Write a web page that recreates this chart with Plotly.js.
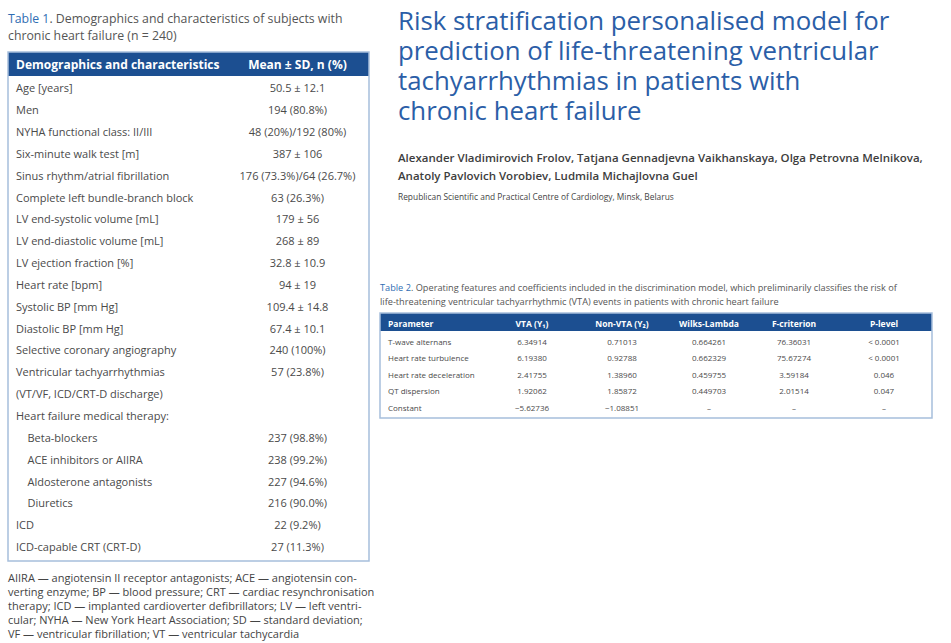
<!DOCTYPE html>
<html>
<head>
<meta charset="utf-8">
<script src="https://cdn.plot.ly/plotly-3.0.1.min.js"></script>
<style>html,body{margin:0;padding:0;background:#fff;}#chart{width:951px;height:643px;}</style>
</head>
<body>
<div id="chart"></div>
<script>
// ---- Table 1 data ----
const t1Header = ["Demographics\u00a0and\u00a0characteristics", "Mean\u00a0\u00b1\u00a0SD,\u00a0n\u00a0(%)"];
const t1Labels = [
  "Age [years]", "Men", "NYHA functional class: II/III", "Six-minute walk test [m]",
  "Sinus rhythm/atrial fibrillation", "Complete left bundle-branch block",
  "LV end-systolic volume [mL]", "LV end-diastolic volume [mL]", "LV ejection fraction [%]",
  "Heart rate [bpm]", "Systolic BP [mm Hg]", "Diastolic BP [mm Hg]",
  "Selective coronary angiography", "Ventricular tachyarrhythmias", "(VT/VF, ICD/CRT-D discharge)",
  "Heart failure medical therapy:",
  "\u00a0\u00a0\u00a0\u00a0Beta-blockers", "\u00a0\u00a0\u00a0\u00a0ACE inhibitors or AIIRA",
  "\u00a0\u00a0\u00a0\u00a0Aldosterone antagonists", "\u00a0\u00a0\u00a0\u00a0Diuretics",
  "ICD", "ICD-capable CRT (CRT-D)"
];
const t1Values = [
  "50.5 \u00b1 12.1", "194 (80.8%)", "48 (20%)/192 (80%)", "387 \u00b1 106",
  "176\u00a0(73.3%)/64\u00a0(26.7%)", "63 (26.3%)", "179 \u00b1 56", "268 \u00b1 89", "32.8 \u00b1 10.9",
  "94 \u00b1 19", "109.4 \u00b1 14.8", "67.4 \u00b1 10.1", "240 (100%)", "57 (23.8%)", "",
  "", "237 (98.8%)", "238 (99.2%)", "227 (94.6%)", "216 (90.0%)", "22 (9.2%)", "27 (11.3%)"
];

// ---- Table 2 data ----
const t2Header = ["Parameter", "VTA\u00a0(Y\u2081)", "Non-VTA\u00a0(Y\u2082)", "Wilks-Lambda", "F-criterion", "P-level"];
const t2Parameter = ["T-wave\u00a0alternans", "Heart\u00a0rate\u00a0turbulence", "Heart\u00a0rate\u00a0deceleration", "QT\u00a0dispersion", "Constant"];
const t2VTA = ["6.34914", "6.19380", "2.41755", "1.92062", "\u22125.62736"];
const t2NonVTA = ["0.71013", "0.92788", "1.38960", "1.85872", "\u22121.08851"];
const t2Wilks = ["0.664261", "0.662329", "0.459755", "0.449703", "\u2013"];
const t2F = ["76.36031", "75.67274", "3.59184", "2.01514", "\u2013"];
const t2P = ["< 0.0001", "< 0.0001", "0.046", "0.047", "\u2013"];

// ---- Text blocks ----
const titleLines = [
  "Risk stratification personalised model for",
  "prediction of life-threatening ventricular",
  "tachyarrhythmias in patients with",
  "chronic heart failure"
];
const authorLines = [
  "Alexander Vladimirovich Frolov, Tatjana Gennadjevna Vaikhanskaya, Olga Petrovna Melnikova,",
  "Anatoly Pavlovich Vorobiev, Ludmila Michajlovna Guel"
];
const affiliation = "Republican Scientific and Practical Centre of Cardiology, Minsk, Belarus";
const t1Caption = [
  "<span style='color:#2f6db3'>Table 1</span>. Demographics and characteristics of subjects with",
  "chronic heart failure (n = 240)"
];
const t2Caption = [
  "<span style='color:#2f6db3'>Table 2</span>. Operating features and coefficients included in the discrimination model, which preliminarily classifies the risk of",
  "life-threatening ventricular tachyarrhythmic (VTA) events in patients with chronic heart failure"
];
const footLines = [
  "AIIRA \u2014 angiotensin II receptor antagonists; ACE \u2014 angiotensin con-",
  "verting enzyme; BP \u2014 blood pressure; CRT \u2014 cardiac resynchronisation",
  "therapy; ICD \u2014 implanted cardioverter defibrillators; LV \u2014 left ventri-",
  "cular; NYHA \u2014 New York Heart Association; SD \u2014 standard deviation;",
  "VF \u2014 ventricular fibrillation; VT \u2014 ventricular tachycardia"
];

const W = 951, H = 643;
const FONT = "Open Sans, Noto Sans, DejaVu Sans, sans-serif";
const HDR = "#1c4f91", BORDER = "#a7bfdc", TXT = "#4a4a4a", BLUE = "#2b5ea7";
const px = x => x / W;
const py = y => 1 - y / H;

const table1 = {
  type: "table",
  domain: {x: [px(8), px(369)], y: [py(600), py(52)]},
  columnwidth: [218, 143],
  header: {
    values: t1Header,
    align: ["left", "center"],
    height: 24,
    fill: {color: HDR},
    line: {color: HDR, width: 0},
    font: {family: FONT, size: 12, color: "#ffffff", weight: "bold"}
  },
  cells: {
    values: [t1Labels, t1Values],
    align: ["left", "center"],
    height: 21.85,
    fill: {color: "rgba(0,0,0,0)"},
    line: {color: "rgba(0,0,0,0)", width: 0},
    font: {family: FONT, size: 11, color: TXT}
  }
};

// split a leading "<" off the P-level strings into a cell prefix (plain text, no row growth)
const t2PPrefix = t2P.map(v => v.startsWith("<") ? "<\u00a0" : "");
const t2PValue = t2P.map(v => v.replace(/^<\s*/, ""));
const t2Columns = [t2Parameter, t2VTA, t2NonVTA, t2Wilks, t2F, t2PValue];
const t2Prefix = t2Columns.map((col, i) => i === t2Columns.length - 1 ? t2PPrefix : col.map(() => ""));

const table2 = {
  type: "table",
  domain: {x: [px(380), px(932)], y: [py(440), py(313)]},
  columnwidth: [106, 92, 88, 86, 84, 96],
  header: {
    values: t2Header,
    align: ["left", "center", "center", "center", "center", "center"],
    height: 17.5,
    fill: {color: HDR},
    line: {color: HDR, width: 0},
    font: {family: FONT, size: 8.5, color: "#ffffff", weight: "bold"}
  },
  cells: {
    values: t2Columns,
    prefix: t2Prefix,
    align: ["left", "center", "center", "center", "center", "center"],
    height: 16.6,
    fill: {color: "rgba(0,0,0,0)"},
    line: {color: "rgba(0,0,0,0)", width: 0},
    font: {family: FONT, size: 8, color: TXT}
  }
};

const annotations = [];
function addText(text, x, y, size, color, weight) {
  annotations.push({
    text: text, xref: "paper", yref: "paper", x: px(x), y: py(y),
    xanchor: "left", yanchor: "middle", showarrow: false, align: "left",
    font: {family: FONT, size: size, color: color, weight: weight || "normal"}
  });
}
const titleY = [20, 50, 80, 110];
titleLines.forEach((t, i) => addText(t, 396, titleY[i], 25.8, BLUE));
const authY = [157, 175];
authorLines.forEach((t, i) => addText(t, 396, authY[i], 11.5, "#3d3d3d", 600));
addText(affiliation, 396, 197, 8.4, "#444");
const c1Y = [18, 35];
t1Caption.forEach((t, i) => addText(t, 6, c1Y[i], 12.3, "#555"));
const c2Y = [287, 301];
t2Caption.forEach((t, i) => addText(t, 378, c2Y[i], 9.2, "#555"));
const fY = [577, 591, 605, 619, 633];
footLines.forEach((t, i) => addText(t, 6, fY[i], 11, "#444"));

const shapes = [
  {type: "rect", xref: "paper", yref: "paper", x0: px(8), x1: px(369), y0: py(561), y1: py(52),
   line: {color: BORDER, width: 1.5}, fillcolor: "rgba(0,0,0,0)"},
  {type: "rect", xref: "paper", yref: "paper", x0: px(380), x1: px(932), y0: py(418), y1: py(313),
   line: {color: BORDER, width: 1.5}, fillcolor: "rgba(0,0,0,0)"}
];

Plotly.newPlot("chart", [table1, table2], {
  width: W, height: H,
  margin: {l: 0, r: 0, t: 0, b: 0},
  paper_bgcolor: "#ffffff",
  font: {family: FONT},
  annotations: annotations,
  shapes: shapes,
  showlegend: false
}, {staticPlot: true, displayModeBar: false});
</script>
</body>
</html>
